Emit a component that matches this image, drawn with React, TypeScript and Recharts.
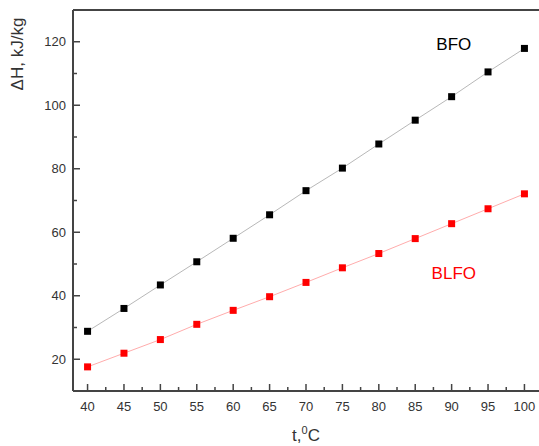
import React from "react";
import {
  LineChart, Line, XAxis, YAxis, ReferenceLine, ReferenceDot,
} from "recharts";

// temperature, °C
const temps = [40, 45, 50, 55, 60, 65, 70, 75, 80, 85, 90, 95, 100];
// ΔH, kJ/kg
const bfo = [28.8, 36.0, 43.4, 50.7, 58.1, 65.5, 73.1, 80.2, 87.8, 95.3, 102.7, 110.5, 117.9];
const blfo = [17.6, 21.9, 26.2, 31.0, 35.4, 39.7, 44.2, 48.8, 53.3, 58.0, 62.7, 67.4, 72.1];

const xTicks = [40, 42.5, 45, 47.5, 50, 52.5, 55, 57.5, 60, 62.5, 65, 67.5, 70, 72.5, 75, 77.5, 80, 82.5, 85, 87.5, 90, 92.5, 95, 97.5, 100];
const yTicks = [20, 30, 40, 50, 60, 70, 80, 90, 100, 110, 120];
const xMajor = [40, 45, 50, 55, 60, 65, 70, 75, 80, 85, 90, 95, 100];
const yMajor = [20, 40, 60, 80, 100, 120];

const seriesNames = ["BFO", "BLFO"];
// label anchors in data units
const labelX = [90.3, 90.3];
const labelY = [119.4, 47.2];

const FONT = "'Liberation Sans', Arial, sans-serif";
const AXIS = "#444";

const data = temps.map((t, i) => ({ t, bfo: bfo[i], blfo: blfo[i] }));

// eslint-disable-next-line @typescript-eslint/no-explicit-any
function XTick(props: any) {
  const { x, y, payload } = props;
  const major = xMajor.includes(payload.value);
  return (
    <g>
      <line x1={x} x2={x} y1={y} y2={y - (major ? 7 : 4)} stroke={AXIS} strokeWidth={1.5} />
      {major && (
        <text x={x} y={y + 20} textAnchor="middle" fontSize={13} fill="#333" fontFamily={FONT}>
          {payload.value}
        </text>
      )}
    </g>
  );
}

// eslint-disable-next-line @typescript-eslint/no-explicit-any
function YTick(props: any) {
  const { x, y, payload } = props;
  const major = yMajor.includes(payload.value);
  return (
    <g>
      <line x1={x} x2={x + (major ? 7 : 4)} y1={y} y2={y} stroke={AXIS} strokeWidth={1.5} />
      {major && (
        <text x={x - 7} y={y + 4.5} textAnchor="end" fontSize={13} fill="#333" fontFamily={FONT}>
          {payload.value}
        </text>
      )}
    </g>
  );
}

function square(color: string) {
  // eslint-disable-next-line @typescript-eslint/no-explicit-any
  return (p: any) => (
    <rect key={`${color}-${p.index}`} x={p.cx - 3.5} y={p.cy - 3.5} width={7} height={7} fill={color} />
  );
}

export default function App() {
  return (
    <div style={{ position: "absolute", left: 0, top: 0, width: 539, height: 446, background: "#fff" }}>
      <LineChart
        width={539}
        height={446}
        data={data}
        margin={{ top: 10, right: 0, left: 8, bottom: 0 }}
        style={{ fontFamily: FONT }}
      >
        <XAxis
          dataKey="t"
          type="number"
          domain={[38, 102]}
          ticks={xTicks}
          interval={0}
          height={55}
          tickSize={0}
          tickMargin={0}
          tickLine={false}
          axisLine={{ stroke: AXIS, strokeWidth: 2 }}
          tick={<XTick />}
          label={{
            // eslint-disable-next-line @typescript-eslint/no-explicit-any
            content: (p: any) => {
              const vb = p.viewBox;
              return (
                <text x={vb.x + vb.width / 2} y={441} textAnchor="middle" fontSize={17} fill="#333" fontFamily={FONT}>
                  t,<tspan dy={-7} fontSize={11}>0</tspan><tspan dy={7}>C</tspan>
                </text>
              );
            },
          }}
        />
        <YAxis
          type="number"
          domain={[10, 130]}
          ticks={yTicks}
          interval={0}
          width={65}
          tickSize={0}
          tickMargin={0}
          tickLine={false}
          axisLine={{ stroke: AXIS, strokeWidth: 2 }}
          tick={<YTick />}
          label={{
            // eslint-disable-next-line @typescript-eslint/no-explicit-any
            content: () => (
              <text
                x={0}
                y={0}
                transform="translate(23, 54) rotate(-90)"
                textAnchor="middle"
                fontSize={17}
                fill="#333"
                fontFamily={FONT}
              >
                ΔH, kJ/kg
              </text>
            ),
          }}
        />
        <ReferenceLine y={130} stroke={AXIS} strokeWidth={2} ifOverflow="extendDomain" />
        <Line
          dataKey="bfo"
          stroke="#b8b8b8"
          strokeWidth={1}
          dot={square("#000")}
          activeDot={false}
          isAnimationActive={false}
        />
        <Line
          dataKey="blfo"
          stroke="#ffacac"
          strokeWidth={1}
          dot={square("#ff0000")}
          activeDot={false}
          isAnimationActive={false}
        />
        <ReferenceDot
          x={labelX[0]}
          y={labelY[0]}
          r={0}
          stroke="none"
          fill="none"
          label={{ value: seriesNames[0], position: "center", fill: "#000", fontSize: 17, fontFamily: FONT }}
        />
        <ReferenceDot
          x={labelX[1]}
          y={labelY[1]}
          r={0}
          stroke="none"
          fill="none"
          label={{ value: seriesNames[1], position: "center", fill: "#ff0000", fontSize: 17, fontFamily: FONT }}
        />
      </LineChart>
    </div>
  );
}
